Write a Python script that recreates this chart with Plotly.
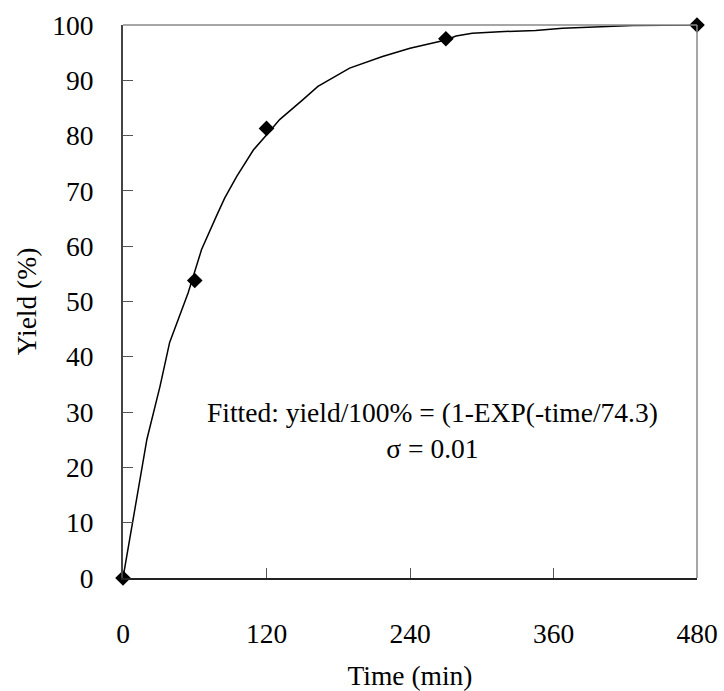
import plotly.graph_objects as go

# measured data points
time_pts = [0, 60, 120, 270, 480]
yield_pts = [0, 53.8, 81.3, 97.5, 100]

# fitted curve
curve_t = [0, 20, 31, 39, 54.5, 65.7, 78, 85, 95, 109, 120, 131, 150.5, 163,
           189.5, 217, 240, 270, 278.5, 292, 315, 326, 345, 367.5, 409, 426, 480]
curve_y = [0, 25.1, 34.7, 42.6, 51.6, 59.4, 65.4, 68.7, 72.6, 77.4, 80.1, 82.9,
           86.5, 88.9, 92.2, 94.3, 95.8, 97.3, 98.0, 98.5, 98.8, 98.9, 99.0,
           99.4, 99.8, 99.9, 100]

x_ticks = [0, 120, 240, 360, 480]
y_ticks = [0, 10, 20, 30, 40, 50, 60, 70, 80, 90, 100]

FONT = "Liberation Serif, Times New Roman, serif"
FS = 27.5

fig = go.Figure()
fig.add_trace(go.Scatter(x=curve_t, y=curve_y, mode="lines",
                         line=dict(color="black", width=1.5),
                         hoverinfo="skip", showlegend=False))
fig.add_trace(go.Scatter(x=time_pts, y=yield_pts, mode="markers",
                         marker=dict(symbol="diamond", size=12, color="black"),
                         cliponaxis=False, showlegend=False))

# top and right frame in gray
fig.add_shape(type="line", xref="paper", yref="paper", x0=0, x1=1, y0=1, y1=1,
              line=dict(color="#888888", width=1.5))
fig.add_shape(type="line", xref="paper", yref="paper", x0=1, x1=1, y0=0, y1=1,
              line=dict(color="#888888", width=1.5))

fig.add_annotation(x=0.54, y=0.266, xref="paper", yref="paper",
                   text="Fitted: yield/100% = (1-EXP(-time/74.3)<br>σ = 0.01",
                   showarrow=False, xanchor="center", yanchor="middle",
                   align="center", font=dict(family=FONT, size=FS, color="black"))

fig.update_layout(
    width=724, height=691,
    margin=dict(l=123, r=26.5, t=24.5, b=112.5, autoexpand=False),
    paper_bgcolor="white", plot_bgcolor="white",
    font=dict(family=FONT, size=FS, color="black"),
    xaxis=dict(range=[0, 480], tickvals=x_ticks, ticktext=[str(v) for v in x_ticks],
               automargin=False,
               showgrid=False, zeroline=False, showline=True, linecolor="#222222",
               linewidth=1.5, ticks="inside", ticklen=10, tickwidth=1.2,
               tickcolor="#555555", ticklabelstandoff=30,
               title=dict(text="Time (min)", standoff=22,
                          font=dict(family=FONT, size=FS))),
    yaxis=dict(range=[0, 100], tickvals=y_ticks, ticktext=[str(v) for v in y_ticks],
               automargin=False,
               showgrid=False, zeroline=False, showline=True, linecolor="#444444",
               linewidth=2, ticks="inside", ticklen=10, tickwidth=1.2,
               tickcolor="#555555", ticklabelstandoff=22,
               title=dict(text="Yield (%)", standoff=8,
                          font=dict(family=FONT, size=FS))),
)

fig.write_html(
    "out.html",
    config={"displayModeBar": False},
    post_script="document.body.style.margin='0';document.body.style.overflow='hidden';",
)
